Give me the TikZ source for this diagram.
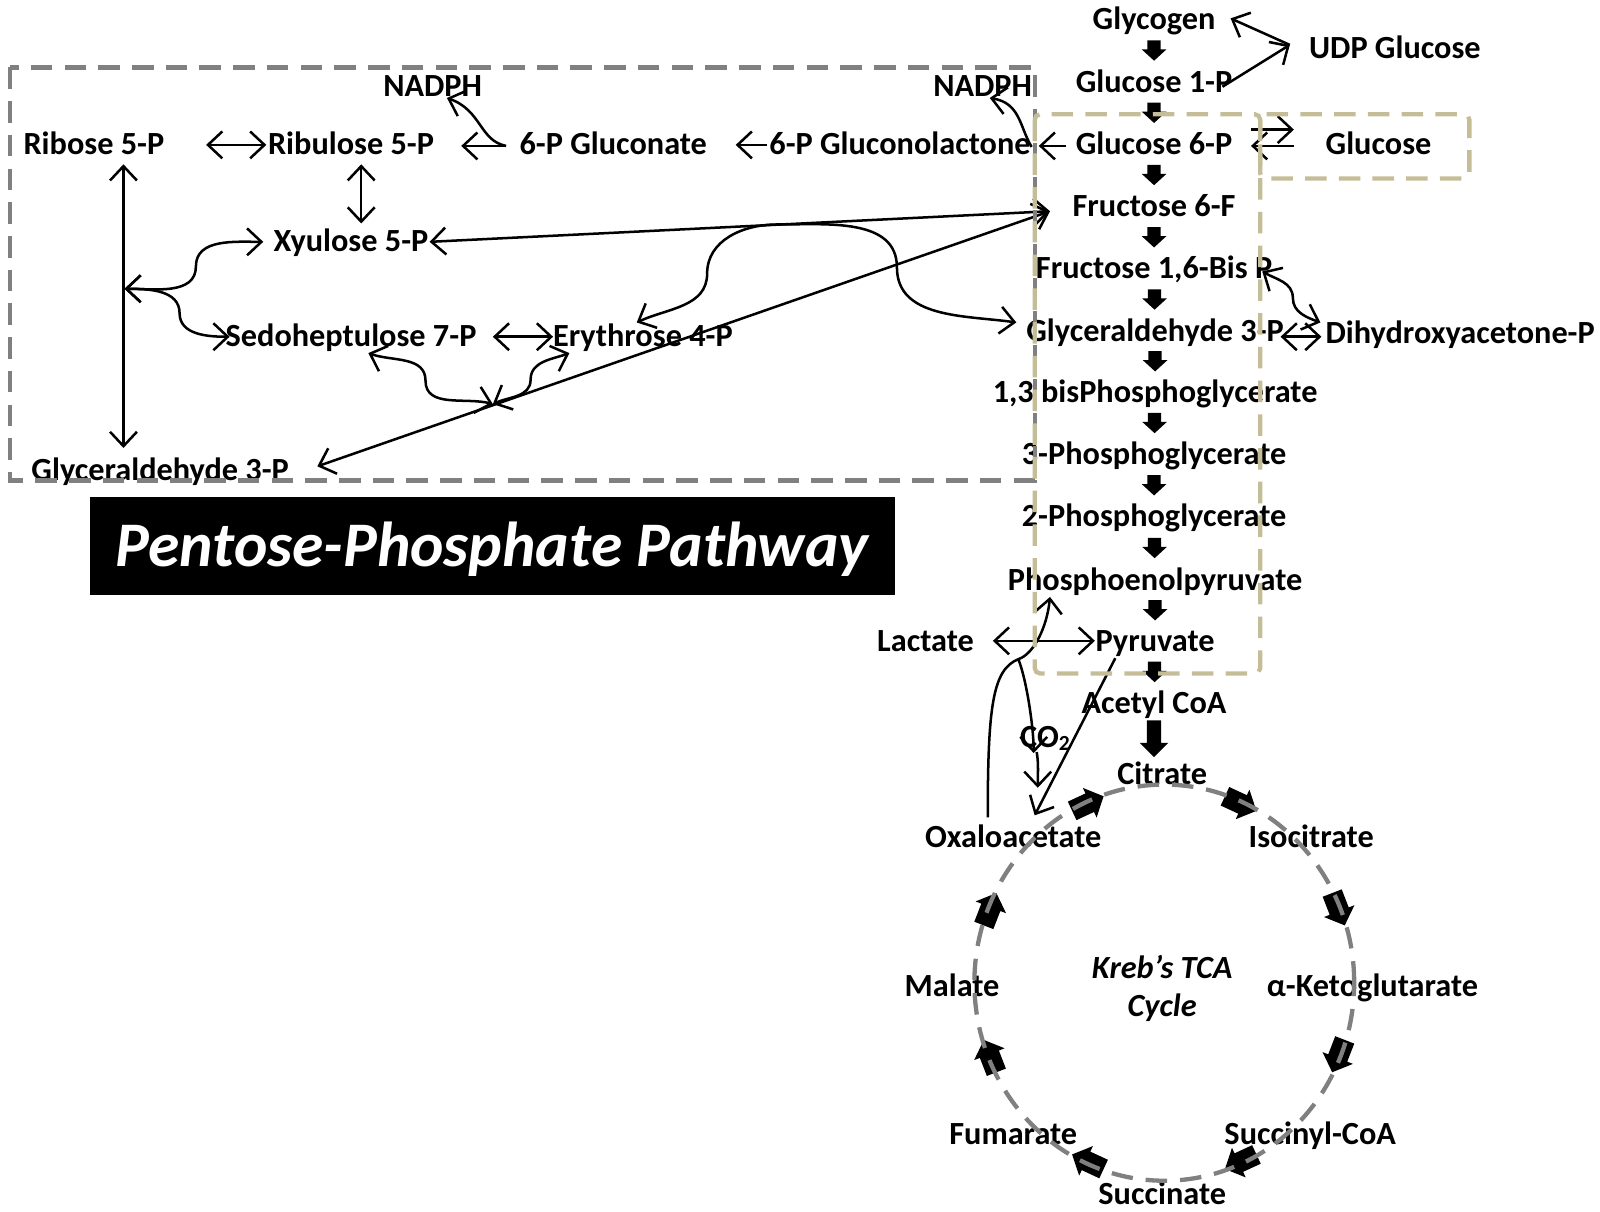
\documentclass[tikz,border=0pt]{standalone}
\usepackage{fontspec}
\setmainfont{Carlito}
\usetikzlibrary{arrows.meta,calc}
\definecolor{boxgray}{RGB}{128,128,128}
\definecolor{boxtan}{RGB}{196,189,151}
\begin{document}
\begin{tikzpicture}[x=0.01cm,y=0.01cm,
  >={Straight Barb[length=4pt,width=7.5pt]},
  lbl/.style={font=\bfseries\fontsize{9}{10}\selectfont, inner sep=0pt, text height=5.8pt, text depth=0pt},
  klbl/.style={font=\bfseries\itshape\fontsize{9}{10}\selectfont, inner sep=0pt, text height=5.8pt, text depth=0pt},
  ttl/.style={fill=black, text=white, font=\bfseries\itshape\fontsize{17.7}{20}\selectfont,
    inner sep=0pt, minimum width=7.89cm, minimum height=0.96cm, text height=11.4pt, text depth=0pt},
  conn/.style={line width=0.7pt},
  graybox/.style={draw=boxgray, line width=1.2pt, dash pattern=on 6pt off 3.4pt},
  tanbox/.style={draw=boxtan, line width=1.2pt, dash pattern=on 6pt off 3.4pt, rounded corners=1.5pt},
  tcadash/.style={draw=boxgray, line width=1.2pt, dash pattern=on 6pt off 3.6pt},
  garr/.pic={\fill (-6.5,10) -- (6.5,10) -- (6.5,1) -- (12,1) -- (0,-10) -- (-12,1) -- (-6.5,1) -- cycle;},
  barr/.pic={\fill (-7,18) -- (7,18) -- (7,-4) -- (14,-4) -- (0,-18) -- (-14,-4) -- (-7,-4) -- cycle;},
  tarr/.pic={\fill (-17,-10) -- (2,-10) -- (2,-16) -- (17,0) -- (2,16) -- (2,10) -- (-17,10) -- cycle;}
]
\useasboundingbox (0,0) rectangle (1568,-1187);

% ---------- labels: glycolysis column ----------
\node[lbl] (glycogen) at (1131,-19) {Glycogen};
\node[lbl] (udp) at (1367,-47) {UDP Glucose};
\node[lbl] (g1p) at (1131,-80) {Glucose 1-P};
\node[lbl] (g6p) at (1131,-141) {Glucose 6-P};
\node[lbl] (glc) at (1351,-141) {Glucose};
\node[lbl] (f6p) at (1131,-202) {Fructose 6-F};
\node[lbl] (f16) at (1131,-263) {Fructose 1,6-Bis P};
\node[lbl] (gapr) at (1132,-324) {Glyceraldehyde 3-P};
\node[lbl] (dhap) at (1431,-326) {Dihydroxyacetone-P};
\node[lbl] (bpg) at (1132,-384) {1,3 bisPhosphoglycerate};
\node[lbl] (pgc3) at (1131,-445) {3-Phosphoglycerate};
\node[lbl] (pgc2) at (1131,-506) {2-Phosphoglycerate};
\node[lbl] (pep) at (1132,-568) {Phosphoenolpyruvate};
\node[lbl] (pyr) at (1132,-628) {Pyruvate};
\node[lbl] (lac) at (907,-628) {Lactate};
\node[lbl] (acoa) at (1131,-689) {Acetyl CoA};
\node[lbl] (co2) at (1025,-722) {CO\textsubscript{2}};

% ---------- TCA labels ----------
\node[lbl] (cit) at (1139,-759) {Citrate};
\node[lbl] (oaa) at (993,-820) {Oxaloacetate};
\node[lbl] (icit) at (1285,-820) {Isocitrate};
\node[lbl] (akg) at (1345,-966) {α-Ketoglutarate};
\node[lbl] (mal) at (933,-966) {Malate};
\node[lbl] (fum) at (993,-1111) {Fumarate};
\node[lbl] (scoa) at (1284,-1111) {Succinyl-CoA};
\node[lbl] (succ) at (1139,-1170) {Succinate};
\node[klbl] (kreba) at (1139,-949) {Kreb’s TCA};
\node[klbl] (krebb) at (1139,-986) {Cycle};

% ---------- pentose phosphate labels ----------
\node[lbl] (nadpha) at (424,-84) {NADPH};
\node[lbl] (nadphb) at (963,-84) {NADPH};
\node[lbl] (rib) at (92,-141) {Ribose 5-P};
\node[lbl] (rul) at (344,-141) {Ribulose 5-P};
\node[lbl] (pgn) at (601,-141) {6-P Gluconate};
\node[lbl] (pgl) at (882,-141) {6-P Gluconolactone};
\node[lbl] (xu) at (344,-236) {Xyulose 5-P};
\node[lbl] (s7) at (344,-329) {Sedoheptulose 7-P};
\node[lbl] (e4) at (630,-329) {Erythrose 4-P};
\node[lbl] (gapl) at (157,-461) {Glyceraldehyde 3-P};
\node[ttl] (ppp) at (482.5,-535) {Pentose-Phosphate Pathway};

% ---------- junction coordinates ----------
\coordinate (v1) at ($(udp)+(-103,3)$);
\coordinate (j1) at (122,-283);
\coordinate (j2) at (483,-396);
\coordinate (fp) at ($(f6p)+(-102,-5)$);
\coordinate (j3) at (998,-646);
\coordinate (tca) at (1141,-963);

% ---------- glycogen / glucose ----------
\draw[conn,->] ($(g1p)+(67,-5)$) -- (v1);
\draw[conn,->] (v1) -- ($(glycogen)+(75,1)$);
\draw[conn,->] ($(g6p)+(95,14)$) -- ($(glc)+(-83,14)$);
\draw[conn,->] ($(glc)+(-83,-2)$) -- ($(g6p)+(95,-2)$);

% ---------- oxidative branch ----------
\draw[conn,->] ($(g6p)+(-86,-2)$) -- ($(pgl)+(136,-2)$);
\draw[conn,->] ($(pgl)+(129,-3)$) .. controls +(-12,20) and +(30,-5) .. ($(nadphb)+(7,-12)$);
\draw[conn,->] ($(pgl)+(-130,-1)$) -- ($(pgn)+(120,-1)$);
\draw[conn,->] ($(pgn)+(-105,-2)$) -- ($(rul)+(108,-2)$);
\draw[conn,->] ($(pgn)+(-105,-2)$) .. controls +(-26,5) and +(34,-12) .. ($(nadpha)+(14,-12)$);

% ---------- non-oxidative branch ----------
\draw[conn,<->] ($(rib)+(110,-1)$) -- ($(rul)+(-83,-1)$);
\draw[conn,<->] ($(rul)+(10,-20)$) -- ($(xu)+(10,17)$);
\draw[conn,<->] ($(rib)+(29,-20)$) -- ($(gapl)+(-36,22)$);
\draw[conn,<->] (j1) to[out=0,in=-90] ($(j1)+(70,22)$) to[out=90,in=180] ($(xu)+(-86,-1)$);
\draw[conn,<->] (j1) to[out=0,in=90] ($(j1)+(54,-24)$) to[out=-90,in=180] ($(s7)+(-119,-1)$);
\draw[conn,<->] ($(s7)+(139,-1)$) -- ($(e4)+(-88,-1)$);
\draw[conn,<->] ($(s7)+(17,-17)$) to[out=-20,in=90] ($(j2)+(-66,23)$) to[out=-90,in=165] (j2);
\draw[conn,<->] ($(e4)+(-72,-17)$) to[out=200,in=90] ($(j2)+(37,24)$) to[out=-90,in=25] (j2);
\draw[conn,<->] ($(xu)+(77,-1)$) -- (fp);
\draw[conn,<->] ($(gapl)+(154,4)$) -- (fp);
\draw[conn,<->] ($(e4)+(-6,13)$) to[out=25,in=-90] ($(e4)+(63,61)$) to[out=90,in=180] ($(e4)+(131,109)$)
   to[out=0,in=90] ($(e4)+(249,67)$) to[out=-90,in=172] ($(gapr)+(-136,8)$);

% ---------- triose phosphates ----------
\draw[conn,<->] ($(f16)+(106,-3)$) to[out=-30,in=90] ($(dhap)+(-164,34)$) to[out=-90,in=160] ($(dhap)+(-137,10)$);
\draw[conn,<->] ($(gapr)+(123,-6)$) -- ($(dhap)+(-136,-4)$);

% ---------- pyruvate branch points ----------
\draw[conn,<->] ($(lac)+(66,0)$) -- ($(pyr)+(-59,0)$);
\draw[conn,->] ($(oaa)+(-25,19)$) .. controls +(0,110) and +(-25,-10) .. (j3)
   .. controls +(15,5) and +(-3,-30) .. ($(pep)+(-103,-17)$);
\draw[conn,->] (j3) .. controls +(8,-20) and +(0,25) .. ($(co2)+(-12,-16)$);
\draw[conn,->] ($(co2)+(-9,-15)$) .. controls +(2,-12) and +(0,12) .. ($(oaa)+(24,48)$);
\draw[conn,->] ($(pyr)+(-39,-17)$) -- ($(oaa)+(21,21)$);

% ---------- glycolysis block arrows ----------
\pic at ($(glycogen)!0.5!(g1p)$) {garr};
\pic at ($(g1p)!0.5!(g6p)$) {garr};
\pic at ($(g6p)!0.5!(f6p)$) {garr};
\pic at ($(f6p)!0.5!(f16)$) {garr};
\pic at ($(f16)!0.5!(gapr)$) {garr};
\pic at ($(gapr)!0.5!(bpg)$) {garr};
\pic at ($(bpg)!0.5!(pgc3)$) {garr};
\pic at ($(pgc3)!0.5!(pgc2)$) {garr};
\pic at ($(pgc2)!0.5!(pep)$) {garr};
\pic at ($(pep)!0.5!(pyr)$) {garr};
\pic at ($(pyr)!0.5!(acoa)$) {garr};
\pic at ($(acoa)+(0,-35)$) {barr};

% ---------- TCA cycle arrows ----------
\foreach \t/\r in {114/24.9, 66/-24.9, 22/-68.8, -22/-111.2, -66/-155.1, -114/155.1, -158/111.2, 158/68.8}{
  \pic[rotate=\r] at ($(tca)+(\t:1.84cm and 1.92cm)$) {tarr};
}

% ---------- dashed frames ----------
\draw[graybox] (10,-66) rectangle (1014,-471);
\draw[tanbox] (1014,-112) rectangle (1235,-660);
\draw[tanbox] (1235,-112) rectangle (1440,-175);
\draw[tcadash] (tca) ellipse [x radius=1.86cm, y radius=1.94cm];
\end{tikzpicture}
\end{document}
